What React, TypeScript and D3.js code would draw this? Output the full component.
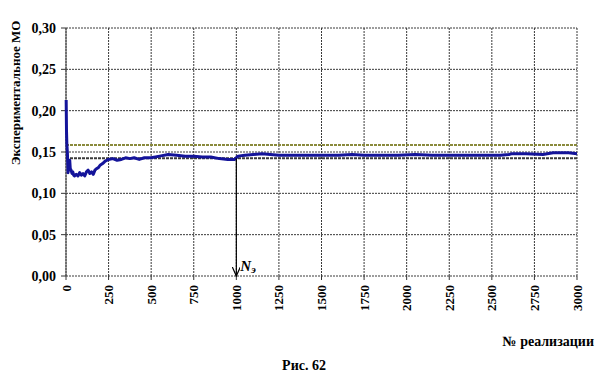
import React from "react";
import * as d3 from "d3";

const xTicks = [0, 250, 500, 750, 1000, 1250, 1500, 1750, 2000, 2250, 2500, 2750, 3000];
const yTicks = [0, 0.05, 0.1, 0.15, 0.2, 0.25, 0.3];

const realizations = [1, 3, 5, 8, 10, 12, 15, 18, 22, 25, 30, 35, 40, 45, 50, 60, 70, 80, 90, 100, 110, 120, 130, 140, 150, 160, 170, 180, 190, 200, 215, 230, 250, 275, 300, 325, 350, 375, 400, 430, 460, 500, 550, 600, 650, 700, 750, 800, 850, 900, 950, 990, 1010, 1050, 1100, 1150, 1200, 1250, 1300, 1400, 1500, 1600, 1680, 1750, 1850, 1950, 2050, 2150, 2250, 2350, 2450, 2550, 2600, 2620, 2700, 2800, 2860, 2950, 3000];
const moValues = [0.213, 0.175, 0.16, 0.15, 0.138, 0.125, 0.135, 0.128, 0.14, 0.13, 0.128, 0.124, 0.126, 0.122, 0.121, 0.123, 0.121, 0.125, 0.122, 0.124, 0.121, 0.126, 0.128, 0.124, 0.126, 0.123, 0.128, 0.13, 0.131, 0.134, 0.136, 0.139, 0.141, 0.142, 0.14, 0.141, 0.143, 0.142, 0.143, 0.141, 0.143, 0.143, 0.145, 0.147, 0.146, 0.145, 0.145, 0.144, 0.144, 0.142, 0.141, 0.141, 0.145, 0.146, 0.147, 0.148, 0.147, 0.146, 0.146, 0.146, 0.146, 0.146, 0.147, 0.146, 0.146, 0.146, 0.147, 0.146, 0.146, 0.146, 0.146, 0.146, 0.147, 0.148, 0.148, 0.147, 0.149, 0.149, 0.148];

const upperLevel = 0.1585;
const lowerLevel = 0.1425;
const nE = 1000;

const yLabel = "Экспериментальное МО";
const xLabel = "№ реализации";
const caption = "Рис. 62";

export default function App() {
  const x = d3.scaleLinear().domain([0, 3000]).range([66, 577]);
  const y = d3.scaleLinear().domain([0, 0.3]).range([276, 28]);
  const data = realizations.map((n, i) => [n, moValues[i]] as [number, number]);
  const line = d3.line<[number, number]>().x((d) => x(d[0])).y((d) => y(d[1]));
  const fmt = (v: number) => v.toFixed(2).replace(".", ",");
  const font = "'Times New Roman', 'Liberation Serif', serif";
  const gridColor = "#3a3a3a";

  return (
    <svg width={604} height={388} style={{ position: "absolute", left: 0, top: 0, background: "#fff", fontFamily: font }}>
      <defs>
        <marker id="arr" markerWidth="10" markerHeight="8" refX="9" refY="4" orient="auto" markerUnits="userSpaceOnUse" viewBox="0 0 10 8">
          <path d="M0,0 L9,4 L0,8" fill="none" stroke="#000" strokeWidth={1.2} />
        </marker>
      </defs>
      {yTicks.map((t) => (
        <g key={"y" + t}>
          <line x1={x(0)} x2={x(3000)} y1={y(t)} y2={y(t)} stroke={gridColor} strokeWidth={1} strokeDasharray="2,1" />
          <line x1={x(0) - 5} x2={x(0)} y1={y(t)} y2={y(t)} stroke="#333" strokeWidth={1} />
          <text x={56} y={y(t)} dy="0.35em" textAnchor="end" fontSize={14} fontWeight="bold">
            {fmt(t)}
          </text>
        </g>
      ))}
      {xTicks.map((t) => (
        <g key={"x" + t}>
          <line x1={x(t)} x2={x(t)} y1={y(0.3)} y2={y(0)} stroke={gridColor} strokeWidth={1} strokeDasharray="2,1" />
          <line x1={x(t)} x2={x(t)} y1={y(0)} y2={y(0) + 4} stroke="#333" strokeWidth={1} />
          <text transform={`translate(${x(t)},285) rotate(-90)`} dy="0.35em" textAnchor="end" fontSize={13} fontWeight="bold">
            {t}
          </text>
        </g>
      ))}
      <line x1={x(0)} x2={x(0)} y1={y(0.3)} y2={y(0)} stroke="#444" strokeWidth={1} />
      <line x1={x(0)} x2={x(3000)} y1={y(upperLevel)} y2={y(upperLevel)} stroke="#8a8a3c" strokeWidth={2} strokeDasharray="3,1" />
      <line x1={x(0)} x2={x(3000)} y1={y(lowerLevel)} y2={y(lowerLevel)} stroke="#3a3a3a" strokeWidth={2} strokeDasharray="3,1" />
      <path d={line(data) || ""} fill="none" stroke="#14149a" strokeWidth={3} strokeLinejoin="round" />
      <line x1={x(nE)} x2={x(nE)} y1={y(lowerLevel)} y2={y(0)} stroke="#000" strokeWidth={1.2} markerEnd="url(#arr)" />
      <text x={x(nE) + 4} y={271} fontSize={15} fontWeight="bold" fontStyle="italic">
        N<tspan fontSize={11} dy={2}>э</tspan>
      </text>
      <text transform="translate(20,93) rotate(-90)" textAnchor="middle" fontSize={13} fontWeight="bold">
        {yLabel}
      </text>
      <text x={594} y={346} textAnchor="end" fontSize={14} fontWeight="bold">
        {xLabel}
      </text>
      <text x={304} y={370} textAnchor="middle" fontSize={14} fontWeight="bold">
        {caption}
      </text>
    </svg>
  );
}
